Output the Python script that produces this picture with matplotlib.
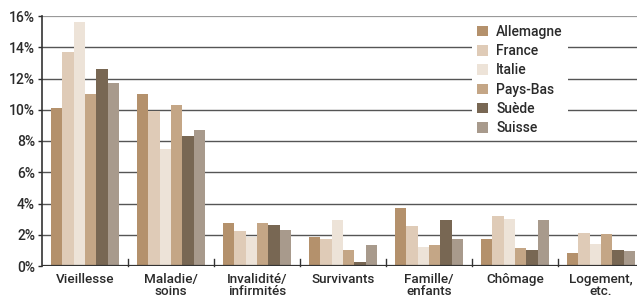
import numpy as np
import matplotlib
matplotlib.use("Agg")
import matplotlib.pyplot as plt
from matplotlib.ticker import FuncFormatter
plt.rcParams["font.family"] = ["Roboto", "DejaVu Sans"]
plt.rcParams["font.weight"] = "medium"

# Data
categories = ["Vieillesse", "Maladie/\nsoins", "Invalidité/\ninfirmités", "Survivants",
              "Famille/\nenfants", "Chômage", "Logement,\netc."]
countries = ["Allemagne", "France", "Italie", "Pays-Bas", "Suède", "Suisse"]
allemagne = [10.1, 11.0, 2.75, 1.85, 3.7, 1.75, 0.85]
france = [13.7, 9.9, 2.25, 1.75, 2.55, 3.2, 2.1]
italie = [15.6, 7.5, 1.85, 2.95, 1.2, 3.0, 1.4]
pays_bas = [11.0, 10.3, 2.75, 1.0, 1.35, 1.15, 2.05]
suede = [12.6, 8.3, 2.6, 0.25, 2.95, 1.0, 1.0]
suisse = [11.7, 8.7, 2.3, 1.35, 1.75, 2.95, 0.95]
series = [allemagne, france, italie, pays_bas, suede, suisse]
colors = ["#b4916c", "#dfcbb7", "#ede3d8", "#c4a686", "#786753", "#a89a8c"]
yticks = [0, 2, 4, 6, 8, 10, 12, 14, 16]

fig = plt.figure(figsize=(6.37, 3.01), dpi=100)
ax = fig.add_axes([42/637, 35/301, 602/637, 250/301])

x = np.arange(len(categories))
w = 0.8 / len(series)
for i, (vals, name, c) in enumerate(zip(series, countries, colors)):
    ax.bar(x - 0.4 + w * (i + 0.5), vals, width=w, color=c, label=name, zorder=3)

# grid lines
for t in yticks[1:]:
    ax.axhline(t, color="#999999" if t == 16 else "#555555",
               lw=1.6 if t == 16 else 1.0, zorder=1)
ax.axhline(0, color="#333333", lw=1.6, zorder=4)

# group separators
for s in x[:-1] + 0.5:
    ax.plot([s, s], [0, 0.45], color="#333333", lw=1, zorder=4, clip_on=False)

ax.set_xlim(-0.5, 6.5)
ax.set_ylim(0, 16)
ax.set_yticks(yticks)
ax.yaxis.set_major_formatter(FuncFormatter(lambda v, p: f"{int(v)}%"))
ax.set_xticks(x)
ax.set_xticklabels(categories, linespacing=0.92)
ax.tick_params(axis="x", length=0, pad=5, labelsize=9.7, colors="#2a2a2a")
ax.tick_params(axis="y", length=3, width=1, pad=2, labelsize=10, colors="#2a2a2a")

for sp in ["top", "right", "bottom"]:
    ax.spines[sp].set_visible(False)
ax.spines["left"].set_color("#333333")
ax.spines["left"].set_linewidth(1.2)
ax.spines["left"].set_zorder(4)

leg = ax.legend(loc="upper left", bbox_to_anchor=(430/602, 246/250), frameon=True,
                fancybox=False, edgecolor="white", framealpha=1, fontsize=10,
                handlelength=0.8, handleheight=0.8, handletextpad=0.6,
                labelspacing=0.38, borderpad=0.35, borderaxespad=0)
leg.get_frame().set_linewidth(0)
leg.set_zorder(5)
for t in leg.get_texts():
    t.set_color("#2a2a2a")

fig.savefig("out.png", dpi=100)
